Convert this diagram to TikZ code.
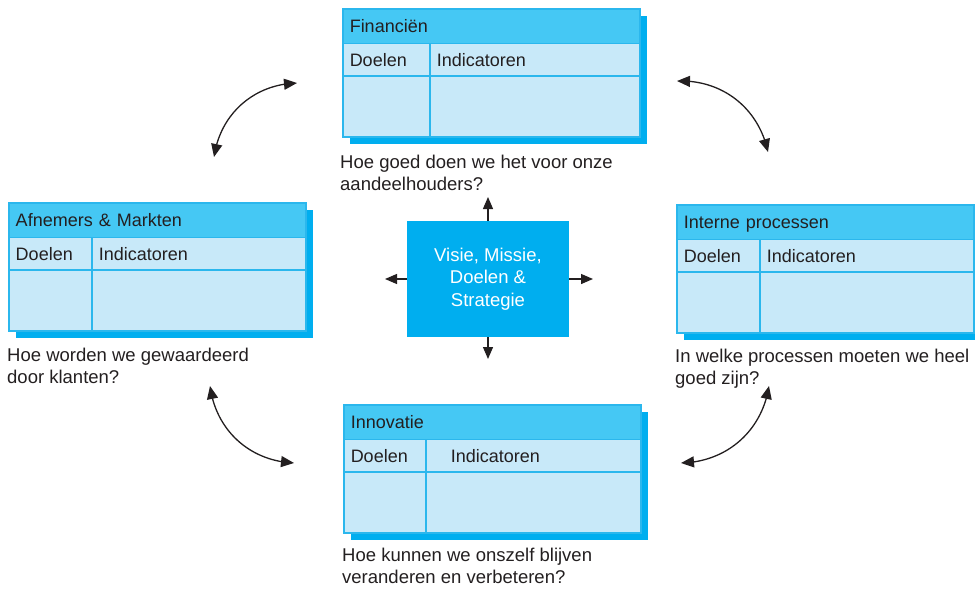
\documentclass[tikz,border=0pt]{standalone}
\usepackage{fontspec}
\setmainfont{Liberation Sans}
\usetikzlibrary{arrows.meta,bending}
\definecolor{ink}{HTML}{231F20}
\definecolor{hdrfill}{HTML}{45C8F4}
\definecolor{bodyfill}{HTML}{C8E9F9}
\definecolor{edgec}{HTML}{2BB7ED}
\definecolor{shadec}{HTML}{00AEEF}
\definecolor{corec}{HTML}{00AEEF}
\tikzset{
  cell/.style={draw=edgec, line width=1.5pt, rectangle, inner ysep=0pt, inner xsep=7pt,
    anchor=north west, text=ink, font=\fontsize{18}{22}\selectfont,
    text height=13pt, text depth=0pt, align=left},
  hdrcell/.style={cell, fill=hdrfill},
  bodycell/.style={cell, fill=bodyfill},
  question/.style={anchor=base west, inner sep=0pt, text=ink, align=left,
    font=\fontsize{18.5}{22}\selectfont},
  core/.style={rectangle, fill=corec, text=white, minimum width=162pt, minimum height=116pt,
    align=center, inner sep=0pt, font=\fontsize{18.5}{22.5}\selectfont},
  spoke/.style={draw=ink, line width=1.3pt, -{Triangle[length=12pt,width=10pt]}},
  cycle/.style={draw=ink, line width=1.3pt, {Triangle[length=13pt,width=11pt]}-{Triangle[length=13pt,width=11pt]}},
}
% name, left, top, column width, title, extra indent of "Indicatoren"
\newcommand\bscpanel[6]{%
  \pgfmathsetmacro\pcolw{#4-14}%
  \pgfmathsetmacro\prestw{297-#4-14}%
  \pgfmathsetmacro\prestx{#2+#4}%
  \fill[shadec] (#2+8,-#3-8) rectangle (#2+305,-#3-136);
  \node[hdrcell, minimum width=297pt, minimum height=34.5pt, text width=283pt] (#1-title) at (#2,-#3) {#5};
  \node[bodycell, minimum width=#4pt, minimum height=32.5pt, text width=\pcolw pt] (#1-goals) at (#2,-#3-34.5) {Doelen};
  \node[bodycell, minimum height=32.5pt, text width=\prestw pt] (#1-ind) at (\prestx,-#3-34.5) {\hspace*{#6pt}Indicatoren};
  \node[bodycell, minimum width=#4pt, minimum height=61pt, text width=\pcolw pt] (#1-goalsbody) at (#2,-#3-67) {};
  \node[bodycell, minimum height=61pt, text width=\prestw pt] (#1-indbody) at (\prestx,-#3-67) {};
}
\begin{document}
\begin{tikzpicture}[x=1pt,y=1pt]
\useasboundingbox (0,0) rectangle (975,-589);

\bscpanel{fin}{342}{8}{87}{Financiën}{0}
\bscpanel{klant}{8}{202}{83}{Afnemers \& Markten}{0}
\bscpanel{proc}{676}{204}{83}{Interne processen}{0}
\bscpanel{inno}{343}{404}{82}{Innovatie}{18}

% anchor = baseline of the last line
\node[question] (qfin) at (340,-190) {Hoe goed doen we het voor onze\\aandeelhouders?};
\node[question] (qklant) at (7,-383) {Hoe worden we gewaardeerd\\door klanten?};
\node[question] (qproc) at (675,-384) {In welke processen moeten we heel\\goed zijn?};
\node[question] (qinno) at (342,-583) {Hoe kunnen we onszelf blijven\\veranderen en verbeteren?};

\node[core] (core) at (488,-279) {Visie, Missie,\\Doelen \&\\Strategie};

\coordinate (tipN) at (488,-197);
\coordinate (tipS) at (488,-359);
\coordinate (tipW) at (385,-279);
\coordinate (tipE) at (593,-279);
\draw[spoke] (core.north) -- (tipN);
\draw[spoke] (core.south) -- (tipS);
\draw[spoke] (core.west) -- (tipW);
\draw[spoke] (core.east) -- (tipE);

\coordinate (tl1) at (214,-157);
\coordinate (tl2) at (297,-83);
\coordinate (tr1) at (677,-81);
\coordinate (tr2) at (768,-152);
\coordinate (bl1) at (210,-386);
\coordinate (bl2) at (294,-463);
\coordinate (br1) at (769,-386);
\coordinate (br2) at (681,-463);
\draw[cycle] (tl1) to[bend left=40] (tl2);
\draw[cycle] (tr1) to[bend left=40] (tr2);
\draw[cycle] (bl1) to[bend right=40] (bl2);
\draw[cycle] (br1) to[bend left=40] (br2);
\end{tikzpicture}
\end{document}
